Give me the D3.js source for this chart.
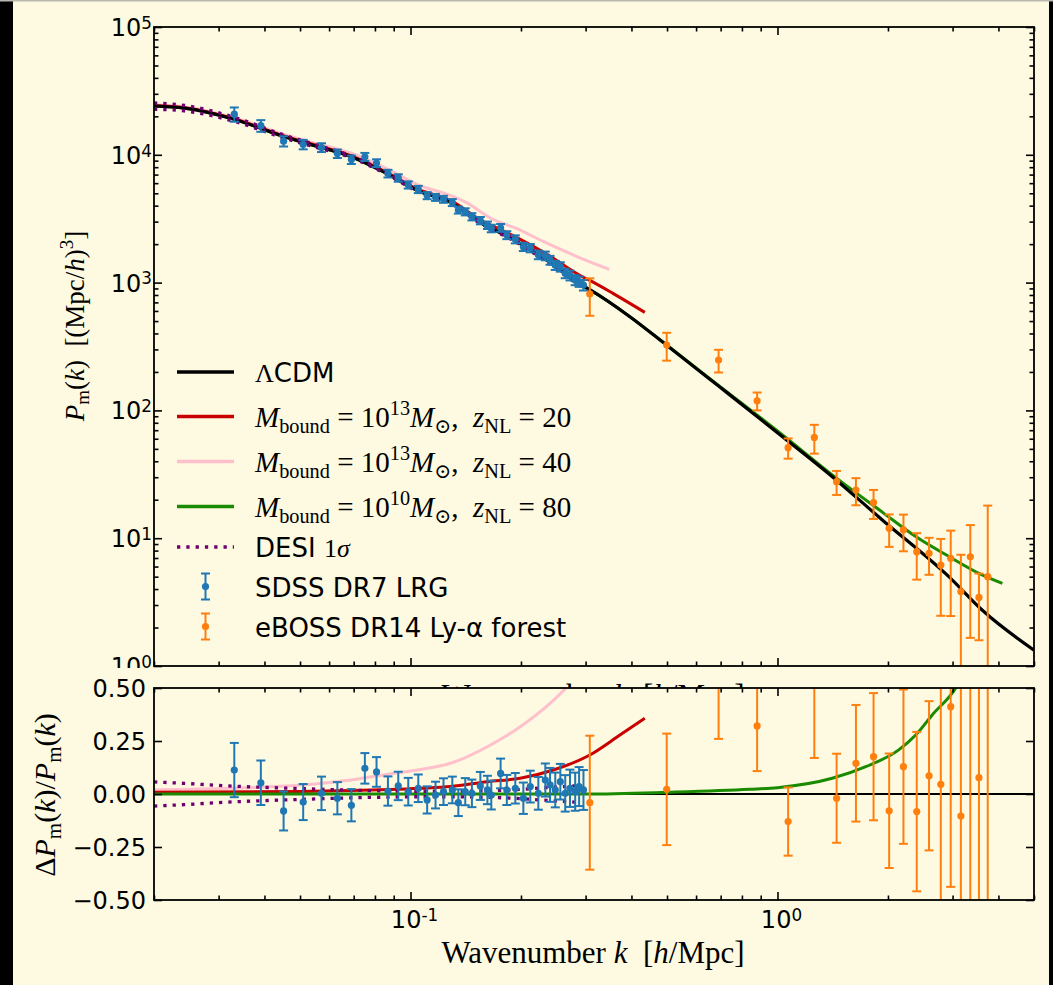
<!DOCTYPE html>
<html>
<head>
<meta charset="utf-8">
<title>Matter power spectrum</title>
<script src="https://d3js.org/d3.v7.min.js"></script>
<style>
  body { margin: 0; background: #fefae1; }
  svg { display: block; }
  text { white-space: pre; }
  .tick line { stroke: #000; stroke-width: 1.6; }
</style>
</head>
<body>
<svg width="1053" height="985"></svg>
<script>
// ---- data ----
const lcdmK = [0.02, 0.0242, 0.033, 0.0452, 0.0559, 0.0687, 0.0845, 0.1045, 0.1285, 0.155, 0.191, 0.235, 0.29, 0.308, 0.396, 0.498, 0.695, 1.034, 1.41, 1.93, 2.93, 3.61, 5.0];
const lcdmP = [24100, 23200, 19000, 13900, 11600, 9700, 7350, 5250, 4250, 2950, 2170, 1500, 970, 880, 541, 325, 153, 62, 30.3, 13.9, 5.0, 2.74, 1.33];

const redTopK = [0.02, 0.0242, 0.033, 0.0452, 0.0559, 0.0687, 0.0845, 0.1045, 0.1285, 0.155, 0.191, 0.235, 0.29, 0.308, 0.357, 0.435];
const redTopP = [24300, 23400, 19200, 14050, 11750, 9850, 7500, 5390, 4400, 3100, 2320, 1670, 1135, 1040, 820, 585];
const redResK = [0.02, 0.05, 0.0687, 0.1064, 0.1285, 0.162, 0.199, 0.245, 0.308, 0.372, 0.435];
const redRes  = [0.008, 0.012, 0.016, 0.027, 0.035, 0.058, 0.074, 0.113, 0.184, 0.278, 0.357];

const pinkTopK = [0.02, 0.0242, 0.033, 0.0452, 0.0559, 0.0687, 0.0845, 0.1045, 0.1285, 0.1426, 0.165, 0.195, 0.23, 0.284, 0.348];
const pinkTopP = [24600, 23700, 19530, 14430, 12180, 10340, 8010, 5850, 4800, 4200, 3200, 2640, 2100, 1600, 1270];
const pinkResK = [0.02, 0.0322, 0.0501, 0.0687, 0.0845, 0.1064, 0.1285, 0.162, 0.199, 0.23, 0.265, 0.3];
const pinkRes  = [0.02, 0.027, 0.042, 0.066, 0.09, 0.116, 0.145, 0.223, 0.317, 0.40, 0.50, 0.62];

const greenTopK = [0.02, 0.0242, 0.033, 0.0452, 0.0559, 0.0687, 0.0845, 0.1045, 0.1285, 0.155, 0.191, 0.235, 0.29, 0.308, 0.396, 0.498, 0.695, 1.034, 1.41, 1.93, 2.38, 2.93, 3.61, 4.10];
const greenTopP = [24100, 23200, 19000, 13900, 11600, 9700, 7350, 5250, 4250, 2950, 2170, 1500, 970, 880, 542, 326, 155, 64, 31.3, 16.0, 10.3, 7.2, 5.16, 4.43];
const greenResK = [0.02, 0.3, 0.5, 0.84, 1.0, 1.41, 1.74, 2.14, 2.38, 2.64, 3.06, 3.2];
const greenRes  = [0, 0, 0.008, 0.022, 0.03, 0.074, 0.129, 0.208, 0.278, 0.373, 0.5, 0.56];

// DESI 1 sigma, given on the first LCDM nodes
const desiSigma = [0.057, 0.05, 0.037, 0.028, 0.023, 0.018, 0.015, 0.013, 0.013, 0.015, 0.02, 0.03, 0.04];

const sdssK = [0.0331, 0.0391, 0.0451, 0.051, 0.0572, 0.0632, 0.069, 0.0751, 0.0808, 0.0868, 0.0926, 0.0986, 0.105, 0.111, 0.117, 0.123, 0.130, 0.135, 0.141, 0.147, 0.155, 0.162, 0.166, 0.176, 0.183, 0.193, 0.203, 0.212, 0.223, 0.233, 0.240, 0.248, 0.256, 0.264, 0.272, 0.281, 0.288, 0.296];
const sdssP = [20800, 16900, 12790, 12060, 11410, 10220, 9170, 9650, 8620, 7140, 6600, 5820, 5365, 4800, 4650, 4495, 4235, 3700, 3585, 3280, 3060, 2815, 2655, 2685, 2355, 2185, 1907, 1865, 1651, 1622, 1499, 1368, 1330, 1184, 1140, 1049, 1020, 957];
const sdssRes = [0.113, 0.053, -0.080, -0.038, 0.003, -0.020, -0.053, 0.121, 0.104, 0.014, 0.038, 0.011, 0.027, -0.028, -0.005, 0.011, 0.019, -0.041, 0.011, 0.003, 0.038, 0.019, -0.005, 0.097, 0.019, 0.027, -0.020, 0.035, 0.003, 0.066, 0.043, 0.019, 0.058, 0.003, 0.027, 0.011, 0.035, 0.019];
const sdssErr = [0.128, 0.105, 0.092, 0.085, 0.079, 0.076, 0.076, 0.072, 0.070, 0.069, 0.067, 0.065, 0.065, 0.064, 0.063, 0.063, 0.063, 0.063, 0.064, 0.065, 0.066, 0.067, 0.068, 0.070, 0.071, 0.072, 0.074, 0.075, 0.077, 0.078, 0.080, 0.082, 0.084, 0.086, 0.088, 0.090, 0.092, 0.094];

const ebossK = [0.308, 0.499, 0.691, 0.880, 1.069, 1.26, 1.449, 1.636, 1.827, 2.015, 2.204, 2.396, 2.588, 2.786, 2.965, 3.16, 3.353, 3.54, 3.74];
const ebossP = [815, 325, 248, 119, 51.1, 61.5, 27.7, 23.8, 19.0, 11.95, 11.6, 7.84, 7.62, 6.17, 6.96, 3.82, 7.16, 3.44, 5.0];
const ebossErr = [265, 80, 50, 19, 9.2, 15.6, 5.9, 5.7, 4.85, 3.4, 3.7, 3.1, 2.45, 3.7, 4.5, 3.6, 5.5, 1.85, 13];
const ebossRes = [-0.041, 0.022, 0.58, 0.321, -0.13, 0.58, -0.02, 0.145, 0.176, -0.079, 0.129, -0.083, 0.086, 0.046, 0.412, -0.104, 0.9, 0.077, 0.77];
const ebossResErr = [0.316, 0.263, 0.32, 0.213, 0.161, 0.41, 0.21, 0.275, 0.3, 0.27, 0.364, 0.376, 0.352, 0.62, 0.85, 0.95, 1.47, 0.6, 4.6];

const residTicks = [-0.5, -0.25, 0, 0.25, 0.5];

// ---- setup ----
const bg = '#fefae1';
const cBlue = '#1f77b4', cOrange = '#ff7f0e', cRed = '#c80000', cPink = '#ffc0cb', cGreen = '#1a8a00', cPurple = '#700070';

let svg = d3.select('svg');
let x = d3.scaleLog().domain([0.02, 5]).range([154, 1034]);
let yP = d3.scaleLog().domain([1, 1e5]).range([666, 27]);
let yR = d3.scaleLinear().domain([-0.5, 0.5]).range([900, 688]);

// frame of the video still
svg.append('rect').attr('x', 0).attr('y', 0).attr('width', 1053).attr('height', 985).attr('fill', bg);
svg.append('rect').attr('x', 0).attr('y', 0).attr('width', 13).attr('height', 985).attr('fill', '#000');
svg.append('rect').attr('x', 1049).attr('y', 0).attr('width', 4).attr('height', 985).attr('fill', '#000');
svg.append('rect').attr('x', 0).attr('y', 0).attr('width', 1053).attr('height', 1.5).attr('fill', '#b8b8b0');

let defs = svg.append('defs');
defs.append('clipPath').attr('id', 'clipTop').append('rect')
    .attr('x', 154).attr('y', 27).attr('width', 880).attr('height', 639);
defs.append('clipPath').attr('id', 'clipBot').append('rect')
    .attr('x', 154).attr('y', 688).attr('width', 880).attr('height', 212);
defs.append('clipPath').attr('id', 'clipLab').append('rect')
    .attr('x', 0).attr('y', 0).attr('width', 160).attr('height', 668);

// rich text: parts = [text, font ('s' sans | 'r' roman serif | 'i' italic serif), shift (em, neg = up), size factor]
function rich(sel, parts, size) {
    let cur = 0;
    parts.forEach(([t, f, sh, z]) => {
        let off = (sh || 0) * size;
        sel.append('tspan')
            .attr('dy', off - cur)
            .attr('font-size', size * (z || 1))
            .attr('font-family', f === 's' ? "'DejaVu Sans', sans-serif" : "'Liberation Serif', 'DejaVu Serif', serif")
            .attr('font-style', f === 'i' ? 'italic' : 'normal')
            .text(t);
        cur = off;
    });
    return sel;
}

function ticks(g, axisFn, scale, tx, ty, values, size) {
    g.append('g')
        .attr('transform', `translate(${tx},${ty})`)
        .call(axisFn(scale).tickValues(values).tickSize(-size).tickFormat(''))
        .call(s => s.select('.domain').remove());
}

function errorBars(g, ks, vals, los, his, yScale, color) {
    let grp = g.append('g');
    ks.forEach((k, i) => {
        let cx = x(k);
        let yl = yScale(los[i]), yh = yScale(his[i]);
        grp.append('line').attr('x1', cx).attr('x2', cx).attr('y1', yl).attr('y2', yh)
            .attr('stroke', color).attr('stroke-width', 2);
        [yl, yh].forEach(yy => grp.append('line')
            .attr('x1', cx - 4.5).attr('x2', cx + 4.5).attr('y1', yy).attr('y2', yy)
            .attr('stroke', color).attr('stroke-width', 2));
    });
    grp.selectAll('circle').data(ks).join('circle')
        .attr('cx', d => x(d)).attr('cy', (d, i) => yScale(vals[i])).attr('r', 3.6)
        .attr('fill', color);
}

const zip = (a, b) => a.map((d, i) => [d, b[i]]);

// ================= top panel =================
let topG = svg.append('g');
let lineTop = d3.line().x(d => x(d[0])).y(d => yP(d[1])).curve(d3.curveMonotoneX);
let plotTop = topG.append('g').attr('clip-path', 'url(#clipTop)');

plotTop.append('path').datum(zip(pinkTopK, pinkTopP)).attr('d', lineTop)
    .attr('fill', 'none').attr('stroke', cPink).attr('stroke-width', 3);
plotTop.append('path').datum(zip(greenTopK, greenTopP)).attr('d', lineTop)
    .attr('fill', 'none').attr('stroke', cGreen).attr('stroke-width', 3);
plotTop.append('path').datum(zip(redTopK, redTopP)).attr('d', lineTop)
    .attr('fill', 'none').attr('stroke', cRed).attr('stroke-width', 3);
plotTop.append('path').datum(zip(lcdmK, lcdmP)).attr('d', lineTop)
    .attr('fill', 'none').attr('stroke', '#000').attr('stroke-width', 3.2);

[1, -1].forEach(sgn => {
    let pts = desiSigma.map((s, i) => [lcdmK[i], lcdmP[i] * (1 + sgn * s)]);
    plotTop.append('path').datum(pts).attr('d', lineTop)
        .attr('fill', 'none').attr('stroke', cPurple).attr('stroke-width', 3.3)
        .attr('stroke-dasharray', '3.3,6');
});

errorBars(plotTop, sdssK, sdssP,
    sdssP.map((p, i) => p * (1 - sdssErr[i])), sdssP.map((p, i) => p * (1 + sdssErr[i])), yP, cBlue);
errorBars(plotTop, ebossK, ebossP,
    ebossP.map((p, i) => Math.max(p - ebossErr[i], 0.3)), ebossP.map((p, i) => p + ebossErr[i]), yP, cOrange);

// top axes frame + ticks
let xAll = x.ticks();
let xMajor = xAll.filter(v => Math.abs(Math.log10(v) - Math.round(Math.log10(v))) < 1e-6);
let xMinor = xAll.filter(v => !xMajor.includes(v));
let yAll = yP.ticks();
let yMajor = yAll.filter(v => Math.abs(Math.log10(v) - Math.round(Math.log10(v))) < 1e-6);
let yMinor = yAll.filter(v => !yMajor.includes(v));

ticks(topG, d3.axisBottom, x, 0, 666, xMajor, 8);
ticks(topG, d3.axisBottom, x, 0, 666, xMinor, 4.5);
ticks(topG, d3.axisTop, x, 0, 27, xMajor, 8);
ticks(topG, d3.axisTop, x, 0, 27, xMinor, 4.5);
ticks(topG, d3.axisLeft, yP, 154, 0, yMajor, 8);
ticks(topG, d3.axisLeft, yP, 154, 0, yMinor, 4.5);
ticks(topG, d3.axisRight, yP, 1034, 0, yMajor, 8);
ticks(topG, d3.axisRight, yP, 1034, 0, yMinor, 4.5);
topG.append('rect').attr('x', 154).attr('y', 27).attr('width', 880).attr('height', 639)
    .attr('fill', 'none').attr('stroke', '#000').attr('stroke-width', 1.8);

let ylabTop = topG.append('g').attr('clip-path', 'url(#clipLab)');
yMajor.forEach(v => {
    rich(ylabTop.append('text').attr('x', 152).attr('y', yP(v) + 9).attr('text-anchor', 'end'),
        [['10', 's'], [String(Math.round(Math.log10(v))), 's', -0.3, 0.7]], 24);
});

rich(topG.append('text').attr('transform', 'translate(84,326) rotate(-90)').attr('text-anchor', 'middle'),
    [['P', 'i'], ['m', 'r', 0.2, 0.7], ['(', 'r'], ['k', 'i'], [')  [(Mpc/', 'r'], ['h', 'i'], [')', 'r'], ['3', 'r', -0.4, 0.7], [']', 'r']], 27);

// top x label (sits under the residual panel)
rich(topG.append('text').attr('x', 593).attr('y', 706).attr('text-anchor', 'middle'),
    [['Wavenumber ', 'r'], ['k', 'i'], ['  [', 'r'], ['h', 'i'], ['/Mpc]', 'r']], 31);

// legend
let leg = topG.append('g');
let legRows = [
    { y: 372, kind: 'line', color: '#000', label: [['Λ', 'r'], ['CDM', 's']], size: 26 },
    { y: 416.5, kind: 'line', color: cRed, label: [['M', 'i'], ['bound', 'r', 0.22, 0.7], [' = 10', 'r'], ['13', 'r', -0.38, 0.7], ['M', 'i'], ['⊙', 'r', 0.22, 0.7], [',  ', 'r'], ['z', 'i'], ['NL', 'r', 0.22, 0.7], [' = 20', 'r']], size: 29 },
    { y: 461.5, kind: 'line', color: cPink, label: [['M', 'i'], ['bound', 'r', 0.22, 0.7], [' = 10', 'r'], ['13', 'r', -0.38, 0.7], ['M', 'i'], ['⊙', 'r', 0.22, 0.7], [',  ', 'r'], ['z', 'i'], ['NL', 'r', 0.22, 0.7], [' = 40', 'r']], size: 29 },
    { y: 506.5, kind: 'line', color: cGreen, label: [['M', 'i'], ['bound', 'r', 0.22, 0.7], [' = 10', 'r'], ['10', 'r', -0.38, 0.7], ['M', 'i'], ['⊙', 'r', 0.22, 0.7], [',  ', 'r'], ['z', 'i'], ['NL', 'r', 0.22, 0.7], [' = 80', 'r']], size: 29 },
    { y: 547, kind: 'dot', color: cPurple, label: [['DESI ', 's'], ['1', 'r'], ['σ', 'i']], size: 26 },
    { y: 586.5, kind: 'err', color: cBlue, label: [['SDSS DR7 LRG', 's']], size: 26 },
    { y: 626.5, kind: 'err', color: cOrange, label: [['eBOSS DR14 Ly-α forest', 's']], size: 26 }
];
legRows.forEach(r => {
    if (r.kind === 'err') {
        leg.append('line').attr('x1', 205.5).attr('x2', 205.5).attr('y1', r.y - 13).attr('y2', r.y + 13)
            .attr('stroke', r.color).attr('stroke-width', 2);
        [r.y - 13, r.y + 13].forEach(yy => leg.append('line').attr('x1', 201).attr('x2', 210).attr('y1', yy).attr('y2', yy)
            .attr('stroke', r.color).attr('stroke-width', 2));
        leg.append('circle').attr('cx', 205.5).attr('cy', r.y).attr('r', 3.6).attr('fill', r.color);
    } else {
        leg.append('line').attr('x1', 177).attr('x2', 234).attr('y1', r.y).attr('y2', r.y)
            .attr('stroke', r.color).attr('stroke-width', 3.3)
            .attr('stroke-dasharray', r.kind === 'dot' ? '3.3,6' : null);
    }
    rich(leg.append('text').attr('x', 255).attr('y', r.y + 10), r.label, r.size);
});

// ================= residual panel =================
let botG = svg.append('g');
botG.append('rect').attr('x', 154).attr('y', 688).attr('width', 880).attr('height', 212).attr('fill', bg);
let lineBot = d3.line().x(d => x(d[0])).y(d => yR(d[1])).curve(d3.curveMonotoneX);
let plotBot = botG.append('g').attr('clip-path', 'url(#clipBot)');

plotBot.append('path').datum(lcdmK.map(k => [k, 0])).attr('d', lineBot)
    .attr('fill', 'none').attr('stroke', '#000').attr('stroke-width', 2);
plotBot.append('path').datum(zip(pinkResK, pinkRes)).attr('d', lineBot)
    .attr('fill', 'none').attr('stroke', cPink).attr('stroke-width', 3);
plotBot.append('path').datum(zip(redResK, redRes)).attr('d', lineBot)
    .attr('fill', 'none').attr('stroke', cRed).attr('stroke-width', 3);
plotBot.append('path').datum(zip(greenResK, greenRes)).attr('d', lineBot)
    .attr('fill', 'none').attr('stroke', cGreen).attr('stroke-width', 3);
[1, -1].forEach(sgn => {
    plotBot.append('path').datum(desiSigma.map((s, i) => [lcdmK[i], sgn * s])).attr('d', lineBot)
        .attr('fill', 'none').attr('stroke', cPurple).attr('stroke-width', 3.3)
        .attr('stroke-dasharray', '3.3,6');
});

errorBars(plotBot, sdssK, sdssRes,
    sdssRes.map((r, i) => r - sdssErr[i]), sdssRes.map((r, i) => r + sdssErr[i]), yR, cBlue);
errorBars(plotBot, ebossK, ebossRes,
    ebossRes.map((r, i) => r - ebossResErr[i]), ebossRes.map((r, i) => r + ebossResErr[i]), yR, cOrange);

ticks(botG, d3.axisBottom, x, 0, 900, xMajor, 8);
ticks(botG, d3.axisBottom, x, 0, 900, xMinor, 4.5);
ticks(botG, d3.axisTop, x, 0, 688, xMajor, 8);
ticks(botG, d3.axisTop, x, 0, 688, xMinor, 4.5);
ticks(botG, d3.axisLeft, yR, 154, 0, residTicks, 8);
ticks(botG, d3.axisRight, yR, 1034, 0, residTicks, 8);
botG.append('rect').attr('x', 154).attr('y', 688).attr('width', 880).attr('height', 212)
    .attr('fill', 'none').attr('stroke', '#000').attr('stroke-width', 1.8);

residTicks.forEach(v => {
    botG.append('text').attr('x', 146).attr('y', yR(v) + 9).attr('text-anchor', 'end')
        .attr('font-family', "'DejaVu Sans', sans-serif").attr('font-size', 24)
        .text(d3.format('.2f')(v).replace('-', '−'));
});
xMajor.forEach(v => {
    let e = Math.round(Math.log10(v));
    rich(botG.append('text').attr('x', x(v) + 4).attr('y', 928).attr('text-anchor', 'middle'),
        [['10', 's'], [e < 0 ? '-' + (-e) : String(e), 's', -0.3, 0.7]], 24);
});

rich(botG.append('text').attr('transform', 'translate(55,795) rotate(-90)').attr('text-anchor', 'middle'),
    [['Δ', 'r'], ['P', 'i'], ['m', 'r', 0.2, 0.7], ['(', 'r'], ['k', 'i'], [')/', 'r'], ['P', 'i'], ['m', 'r', 0.2, 0.7], ['(', 'r'], ['k', 'i'], [')', 'r']], 30);

rich(botG.append('text').attr('x', 593).attr('y', 963).attr('text-anchor', 'middle'),
    [['Wavenumber ', 'r'], ['k', 'i'], ['  [', 'r'], ['h', 'i'], ['/Mpc]', 'r']], 31);
</script>
</body>
</html>
